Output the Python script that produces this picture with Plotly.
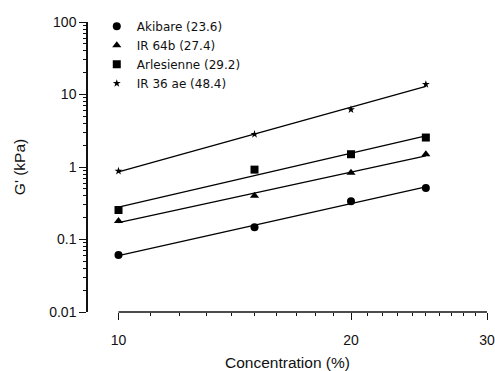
import numpy as np
import plotly.graph_objects as go

# ---- data ----
conc = [10, 15, 20, 25]
akibare = [0.061, 0.147, 0.338, 0.515]
ir64b = [0.18, 0.40, 0.83, 1.50]
arlesienne = [0.255, 0.92, 1.50, 2.55]
ir36ae = [0.88, 2.83, 6.2, 13.8]

series_names = ["Akibare (23.6)", "IR 64b (27.4)", "Arlesienne (29.2)", "IR 36 ae (48.4)"]
series_values = [akibare, ir64b, arlesienne, ir36ae]
series_symbols = ["circle", "triangle-up", "square", "star"]
series_sizes = [8, 8, 8, 6]

y_ticks = [0.01, 0.1, 1, 10, 100]
y_ticktext = ["0.01", "0.1", "1", "10", "100"]
x_ticks = [10, 20, 30]
x_ticktext = ["10", "20", "30"]

FONT = "Liberation Sans, Arial, sans-serif"

fig = go.Figure()

# regression (power-law) lines
lx = np.log10(conc)
for vals in series_values:
    p = np.polyfit(lx, np.log10(vals), 1)
    xs = np.array([conc[0], conc[-1]])
    ys = 10 ** np.polyval(p, np.log10(xs))
    fig.add_trace(go.Scatter(x=xs, y=ys, mode="lines",
                             line=dict(color="black", width=1.3),
                             showlegend=False, hoverinfo="skip"))

for name, vals, sym, sz in zip(series_names, series_values, series_symbols, series_sizes):
    fig.add_trace(go.Scatter(x=conc, y=vals, mode="markers", name=name,
                             marker=dict(symbol=sym, size=sz, color="black",
                                         line=dict(width=0))))

y_minor = [m * 10.0 ** e for e in range(-2, 2) for m in range(2, 10)]
x_minor = [v for v in range(11, 30) if v != 20]

fig.update_layout(
    width=495, height=371,
    margin=dict(l=88, r=8, t=22, b=59),
    paper_bgcolor="white", plot_bgcolor="white",
    font=dict(family=FONT, size=14, color="#111"),
    showlegend=True,
    legend=dict(x=0.022, y=1.035, xanchor="left", yanchor="top",
                bgcolor="rgba(0,0,0,0)",
                font=dict(family="DejaVu Sans, sans-serif", size=12, color="#111"),
                itemsizing="trace", tracegroupgap=0),
    xaxis=dict(type="log", range=[0.9605, np.log10(30)], automargin=False,
               showline=False, showgrid=False, zeroline=False,
               tickvals=x_ticks, ticktext=x_ticktext,
               ticks="outside", ticklen=7, tickwidth=1.3, tickcolor="#111",
               minor=dict(tickvals=x_minor, ticks="outside", ticklen=3,
                          tickwidth=1, tickcolor="#111", showgrid=False),
               tickfont=dict(size=14), ticklabelstandoff=8,
               title=dict(text="Concentration (%)", font=dict(size=15.5), standoff=14)),
    yaxis=dict(type="log", range=[-2, 2], automargin=False,
               showline=True, linecolor="#111", linewidth=1.5,
               showgrid=False, zeroline=False,
               tickvals=y_ticks, ticktext=y_ticktext,
               ticks="outside", ticklen=7, tickwidth=1.3, tickcolor="#111",
               minor=dict(tickvals=y_minor, ticks="outside", ticklen=3,
                          tickwidth=1, tickcolor="#111", showgrid=False),
               tickfont=dict(size=14),
               title=dict(text="G' (kPa)", font=dict(size=15.5), standoff=20)),
)

# x-axis baseline running from 10 to 30 only
fig.add_shape(type="line", xref="x", yref="paper",
              x0=x_ticks[0], x1=x_ticks[-1], y0=0, y1=0,
              line=dict(color="#111", width=1.5))

fig.write_html("out.html")
